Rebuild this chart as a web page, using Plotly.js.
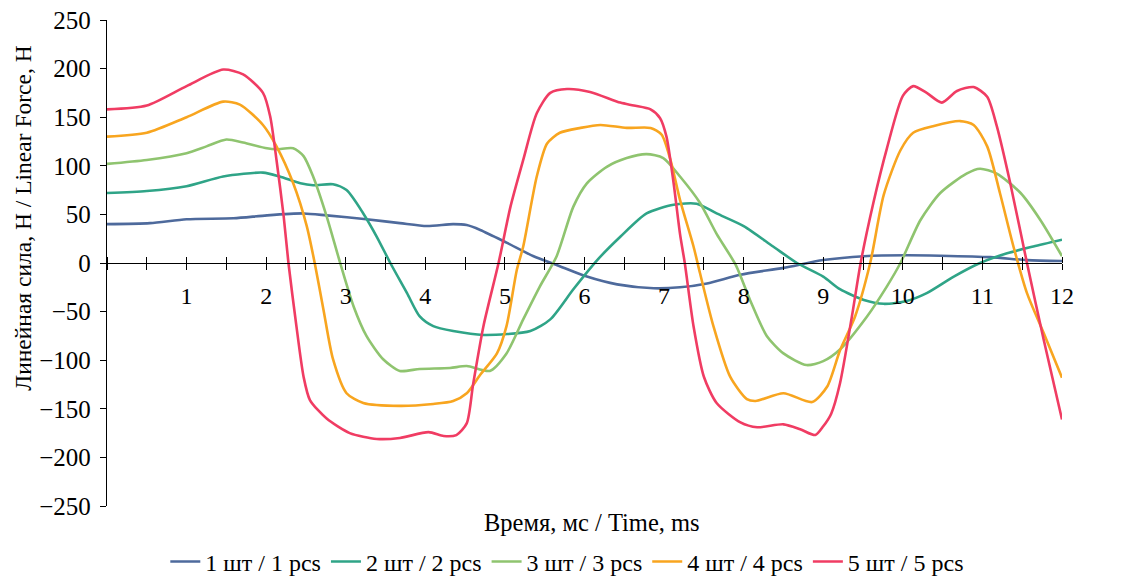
<!DOCTYPE html>
<html>
<head>
<meta charset="utf-8">
<script src="https://cdn.plot.ly/plotly-3.0.1.min.js"></script>
<style>
  html, body { margin: 0; padding: 0; background: #fff; }
  #chart { width: 1137px; height: 582px; }
</style>
</head>
<body>
<div id="chart"></div>
<script>
// series names
const seriesNames = ['1 шт / 1 pcs', '2 шт / 2 pcs', '3 шт / 3 pcs', '4 шт / 4 pcs', '5 шт / 5 pcs'];

// 1 pcs
const time1 = [0, 0.54, 1.0, 1.59, 2.01, 2.47, 2.76, 3.26, 3.68, 4.02, 4.35, 4.52, 4.69, 5.02, 5.36, 5.65, 6.03, 6.41, 6.87, 7.2, 7.54, 7.96, 8.5, 9.0, 9.51, 10.05, 10.47, 11.1, 11.56, 12.0];
const force1 = [40, 41, 45, 46, 49, 51, 49, 45, 41, 38, 40, 39, 34, 21, 7, -2, -14, -22, -26, -25, -21, -12, -5, 3, 7, 8, 7.5, 6, 3, 2];

// 2 pcs
const time2 = [0, 0.5, 1.0, 1.46, 1.96, 2.17, 2.43, 2.59, 2.84, 3.01, 3.22, 3.39, 3.56, 3.77, 3.93, 4.1, 4.35, 4.73, 5.32, 5.57, 5.86, 6.16, 6.45, 6.78, 7.12, 7.41, 7.66, 8.0, 8.37, 8.67, 9.0, 9.21, 9.51, 9.76, 10.05, 10.3, 10.64, 10.97, 11.31, 11.64, 12.0];
const force2 = [72, 74, 79, 89, 93, 89, 82, 80, 81, 75, 51, 27, 0, -31, -55, -65, -70, -74, -70, -58, -27, 3, 27, 51, 60, 61, 51, 38, 17, 0, -14, -27, -38, -42, -39, -31, -14, 0, 10, 17, 24];

// 3 pcs
const time3 = [0, 0.5, 1.0, 1.25, 1.5, 1.71, 2.01, 2.13, 2.34, 2.47, 2.59, 2.76, 2.93, 3.1, 3.26, 3.47, 3.68, 3.93, 4.31, 4.52, 4.81, 5.02, 5.23, 5.44, 5.65, 5.86, 6.03, 6.28, 6.53, 6.78, 6.99, 7.2, 7.45, 7.66, 7.9, 8.08, 8.29, 8.5, 8.79, 9.0, 9.21, 9.55, 9.8, 9.97, 10.22, 10.47, 10.8, 10.97, 11.18, 11.48, 11.73, 12.0];
const force3 = [102, 106, 113, 120, 127, 124, 118, 117, 118, 110, 89, 48, 0, -45, -75, -99, -111, -109, -108, -106, -111, -93, -58, -24, 7, 58, 82, 99, 108, 112, 108, 89, 62, 30, -2, -38, -75, -93, -105, -101, -89, -55, -24, 0, 44, 72, 92, 97, 92, 72, 44, 7];

// 4 pcs
const time4 = [0, 0.5, 1.0, 1.46, 1.67, 1.96, 2.13, 2.34, 2.51, 2.61, 2.72, 2.84, 3.01, 3.22, 3.68, 4.1, 4.35, 4.52, 4.69, 4.9, 5.02, 5.15, 5.23, 5.4, 5.53, 5.69, 5.95, 6.2, 6.53, 6.83, 6.97, 7.08, 7.2, 7.37, 7.45, 7.62, 7.83, 8.04, 8.15, 8.5, 8.86, 9.05, 9.21, 9.4, 9.59, 9.76, 9.97, 10.13, 10.39, 10.72, 10.89, 11.06, 11.22, 11.39, 11.56, 11.77, 12.0];
const force4 = [130, 134, 150, 166, 163, 142, 120, 82, 38, 0, -48, -99, -134, -144, -147, -145, -142, -134, -115, -93, -65, -7, 17, 89, 123, 134, 139, 142, 139, 139, 132, 106, 65, 17, -10, -65, -117, -140, -142, -134, -143, -127, -90, -55, 0, 70, 116, 134, 141, 146, 142, 120, 72, 17, -31, -72, -118];

// 5 pcs
const time5 = [0, 0.5, 1.0, 1.46, 1.71, 1.96, 2.05, 2.13, 2.22, 2.28, 2.38, 2.47, 2.55, 2.76, 3.05, 3.39, 3.68, 4.04, 4.23, 4.39, 4.52, 4.6, 4.73, 4.92, 5.07, 5.23, 5.4, 5.57, 5.78, 6.07, 6.45, 6.62, 6.83, 6.95, 7.03, 7.12, 7.2, 7.26, 7.37, 7.5, 7.66, 7.96, 8.17, 8.5, 8.71, 8.9, 9.0, 9.1, 9.21, 9.36, 9.47, 9.63, 9.8, 10.0, 10.13, 10.3, 10.49, 10.68, 10.89, 11.06, 11.18, 11.35, 11.56, 11.77, 12.0];
const force5 = [158, 162, 182, 199, 194, 175, 151, 106, 48, 0, -65, -117, -141, -160, -175, -181, -180, -174, -178, -177, -165, -125, -65, 0, 58, 106, 154, 175, 179, 176, 165, 162, 158, 149, 130, 82, 30, 0, -65, -117, -144, -164, -169, -166, -171, -177, -168, -155, -124, -55, 0, 62, 118, 172, 182, 175, 165, 177, 181, 171, 141, 82, 0, -79, -161];

// x axis tick labels (every 0.5 ms a tick, labels on whole ms)
const tickVals = [0, 0.5, 1, 1.5, 2, 2.5, 3, 3.5, 4, 4.5, 5, 5.5, 6, 6.5, 7, 7.5, 8, 8.5, 9, 9.5, 10, 10.5, 11, 11.5, 12];
const tickText = ['', '', '1', '', '2', '', '3', '', '4', '', '5', '', '6', '', '7', '', '8', '', '9', '', '10', '', '11', '', '12'];

const colors = ['#4e6a9c', '#2fa487', '#8fc46f', '#f8a51f', '#f03c63'];
const times = [time1, time2, time3, time4, time5];
const forces = [force1, force2, force3, force4, force5];

const fontFam = '"Liberation Serif", "Times New Roman", serif';

var data = seriesNames.map(function (name, i) {
    return {
        type: 'scatter',
        mode: 'lines',
        name: name,
        x: times[i],
        y: forces[i],
        line: { color: colors[i], width: 2.6, shape: 'spline', smoothing: 0.7 }
    };
});

var layout = {
    width: 1137,
    height: 582,
    paper_bgcolor: '#fff',
    plot_bgcolor: '#fff',
    font: { family: fontFam, size: 24, color: '#000' },
    margin: { l: 107, r: 75, t: 20, b: 76, autoexpand: false },
    showlegend: true,
    legend: {
        orientation: 'h',
        x: 0.482, xanchor: 'center',
        y: -0.115, yanchor: 'middle',
        font: { family: fontFam, size: 24, color: '#000' },
        itemwidth: 30,
        tracegroupgap: 0
    },
    xaxis: {
        range: [0, 12],
        anchor: 'free',
        position: 0.5,
        tickmode: 'array',
        tickvals: tickVals,
        ticktext: tickText,
        ticks: 'outside',
        ticklen: 6,
        tickcolor: '#000',
        tickwidth: 1.3,
        ticklabelstandoff: 5,
        showline: true,
        linecolor: '#000',
        linewidth: 1.3,
        showgrid: false,
        zeroline: false,
        tickfont: { family: fontFam, size: 24, color: '#000' }
    },
    // upper half of the crossing ticks
    xaxis2: {
        range: [0, 12],
        overlaying: 'x',
        anchor: 'free',
        position: 0.5,
        side: 'top',
        tickmode: 'array',
        tickvals: tickVals,
        ticks: 'outside',
        ticklen: 6,
        tickcolor: '#000',
        tickwidth: 1.3,
        showticklabels: false,
        showline: false,
        showgrid: false,
        zeroline: false
    },
    yaxis: {
        range: [-250, 250],
        dtick: 50,
        ticks: 'outside',
        ticklen: 6,
        tickcolor: '#000',
        tickwidth: 1.3,
        ticklabelstandoff: 4,
        showline: true,
        linecolor: '#000',
        linewidth: 1.3,
        showgrid: false,
        zeroline: false,
        tickfont: { family: fontFam, size: 25, color: '#000' }
    },
    annotations: [
        {
            text: 'Время, мс / Time, ms',
            xref: 'paper', yref: 'paper',
            x: 0.508, y: -0.033,
            xanchor: 'center', yanchor: 'middle',
            showarrow: false,
            font: { family: fontFam, size: 24.5, color: '#000' }
        },
        {
            text: 'Линейная сила, Н / Linear Force, Н',
            xref: 'paper', yref: 'paper',
            x: -0.088, y: 0.593,
            xanchor: 'center', yanchor: 'middle',
            textangle: -90,
            showarrow: false,
            font: { family: fontFam, size: 23.5, color: '#000' }
        }
    ]
};

// dummy trace on xaxis2 so the overlay axis is drawn
data.push({
    type: 'scatter', mode: 'lines', x: [0, 12], y: [0, 0],
    xaxis: 'x2', showlegend: false, hoverinfo: 'skip',
    line: { color: 'rgba(0,0,0,0)', width: 0 }
});

Plotly.newPlot('chart', data, layout, { displayModeBar: false });
</script>
</body>
</html>
